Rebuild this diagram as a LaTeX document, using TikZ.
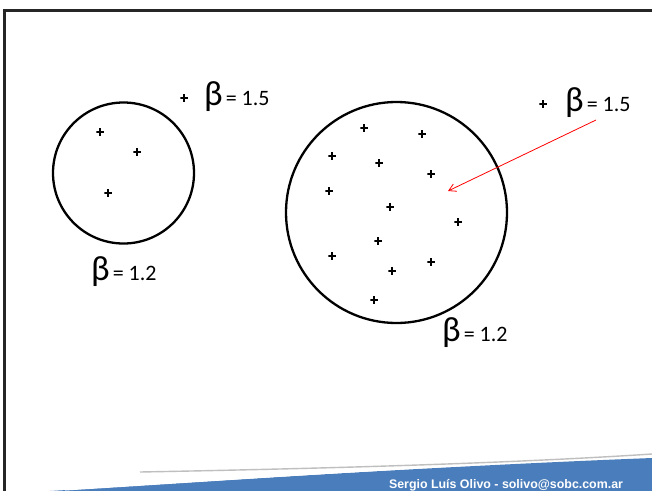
\documentclass[tikz,border=0pt]{standalone}
\usepackage{fontspec}
\setmainfont{Carlito}
\newfontfamily\footfont{Liberation Sans}
\usetikzlibrary{arrows.meta}
\definecolor{footblue}{HTML}{4A7DBB}
\tikzset{
  plusmark/.style={inner sep=0pt, minimum size=7.5pt,
    path picture={\draw[line width=1.7pt]
      (path picture bounding box.north) -- (path picture bounding box.south)
      (path picture bounding box.west) -- (path picture bounding box.east);}},
  ring/.style={circle, draw, line width=2.3pt, inner sep=0pt},
  betalabel/.style={anchor=base west, inner sep=0pt},
  redarrow/.style={red, line width=0.8pt, -{Straight Barb[length=7pt,width=8pt]}},
  frameline/.style={line width=3pt, black!85}
}
\newcommand{\betaval}[1]{{\fontsize{35}{35}\selectfont β}\hspace{3pt}{\fontsize{22}{22}\selectfont = #1}}
\begin{document}
\begin{tikzpicture}[x=1pt,y=-1pt]
\useasboundingbox (0,0) rectangle (652,490);
\fill[white] (0,0) rectangle (652,490);
% frame
\draw[frameline] (4.5,491) -- (4.5,10) -- (653,10);
% footer
\fill[footblue] (50,491) .. controls (200,482) and (420,467) .. (652,458) -- (652,491) -- cycle;
\draw[line width=2pt, white] (65,489.5) .. controls (220,480) and (430,465) .. (652,455.5);
\draw[line width=1.4pt, gray!50] (140,472) .. controls (300,469) and (500,464) .. (652,454);
\node[text=white, font=\footfont\bfseries\fontsize{12.4}{13}\selectfont, anchor=base] (foot) at (506,488) {Sergio Luís Olivo - solivo@sobc.com.ar};
% left circle
\node[ring, minimum size=141pt] (c1) at (123.5,173) {};
\node[plusmark] (a1) at (100,132) {};
\node[plusmark] (a2) at (137,152) {};
\node[plusmark] (a3) at (108,193) {};
\node[plusmark] (o1) at (184,98) {};
\node[betalabel] (b1) at (204,105) {\betaval{1.5}};
\node[betalabel] (b2) at (91,280) {\betaval{1.2}};
% right circle
\node[ring, minimum size=221pt] (c2) at (396.5,212.5) {};
\node[plusmark] (r1) at (364,128) {};
\node[plusmark] (r2) at (422,134) {};
\node[plusmark] (r3) at (332,156) {};
\node[plusmark] (r4) at (379,163) {};
\node[plusmark] (r5) at (431,174) {};
\node[plusmark] (r6) at (329,191) {};
\node[plusmark] (r7) at (390,207) {};
\node[plusmark] (r8) at (458,222) {};
\node[plusmark] (r9) at (378,241) {};
\node[plusmark] (r10) at (332,256) {};
\node[plusmark] (r11) at (431,262) {};
\node[plusmark] (r12) at (392,271) {};
\node[plusmark] (r13) at (374,300) {};
\node[plusmark] (o2) at (543,104) {};
\node[betalabel] (b3) at (565,111) {\betaval{1.5}};
\node[betalabel] (b4) at (442,341) {\betaval{1.2}};
% arrow
\coordinate (ast) at (596,120);
\coordinate (aen) at (448,191);
\draw[redarrow] (ast) -- (aen);
\end{tikzpicture}
\end{document}
